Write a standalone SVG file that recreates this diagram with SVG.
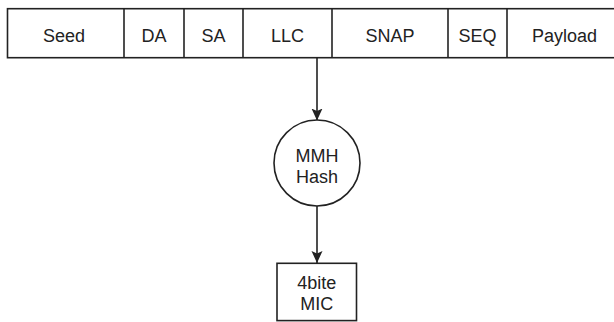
<svg xmlns="http://www.w3.org/2000/svg" width="614" height="322" viewBox="0 0 614 322">
<style>
.ln{fill:none;stroke:#222;stroke-width:1.6}
.nd{fill:#fff;stroke:#222;stroke-width:1.6}
.lb{font-family:"Liberation Sans",Arial,sans-serif;font-size:18px;fill:#222;text-anchor:middle}
.nt{font-family:"Liberation Sans",Arial,sans-serif;font-size:18px;fill:#222;text-anchor:middle}
</style>
<defs>
<marker id="ah" viewBox="0 0 12 12" refX="12" refY="6" markerWidth="12" markerHeight="12" markerUnits="userSpaceOnUse" orient="auto">
<path d="M0,0.5 L12,6 L0,11.5 L2.5,6 Z" fill="#222"/>
</marker>
</defs>
<g id="frame">
<rect class="nd" x="7.5" y="8.7" width="610" height="49"/>
<line class="ln" x1="124" y1="8.7" x2="124" y2="57.7"/>
<line class="ln" x1="184" y1="8.7" x2="184" y2="57.7"/>
<line class="ln" x1="243" y1="8.7" x2="243" y2="57.7"/>
<line class="ln" x1="332" y1="8.7" x2="332" y2="57.7"/>
<line class="ln" x1="448" y1="8.7" x2="448" y2="57.7"/>
<line class="ln" x1="507" y1="8.7" x2="507" y2="57.7"/>
<text class="lb" x="64" y="41.7">Seed</text>
<text class="lb" x="154" y="41.7">DA</text>
<text class="lb" x="213.5" y="41.7">SA</text>
<text class="lb" x="287.5" y="41.7">LLC</text>
<text class="lb" x="390" y="41.7">SNAP</text>
<text class="lb" x="477.5" y="41.7">SEQ</text>
<text class="lb" x="564.5" y="41.7">Payload</text>
</g>
<g id="connectors">
<line class="ln" x1="317" y1="57.7" x2="317" y2="120.5" marker-end="url(#ah)"/>
<line class="ln" x1="317" y1="206" x2="317" y2="263" marker-end="url(#ah)"/>
</g>
<g id="mmh">
<circle class="nd" cx="317" cy="163" r="43"/>
<text class="nt" x="317" y="162">MMH</text>
<text class="nt" x="317" y="183">Hash</text>
</g>
<g id="mic">
<rect class="nd" x="277" y="263.3" width="79.5" height="57.3"/>
<text class="nt" x="316.7" y="288.5">4bite</text>
<text class="nt" x="316.7" y="309.5">MIC</text>
</g>
</svg>
